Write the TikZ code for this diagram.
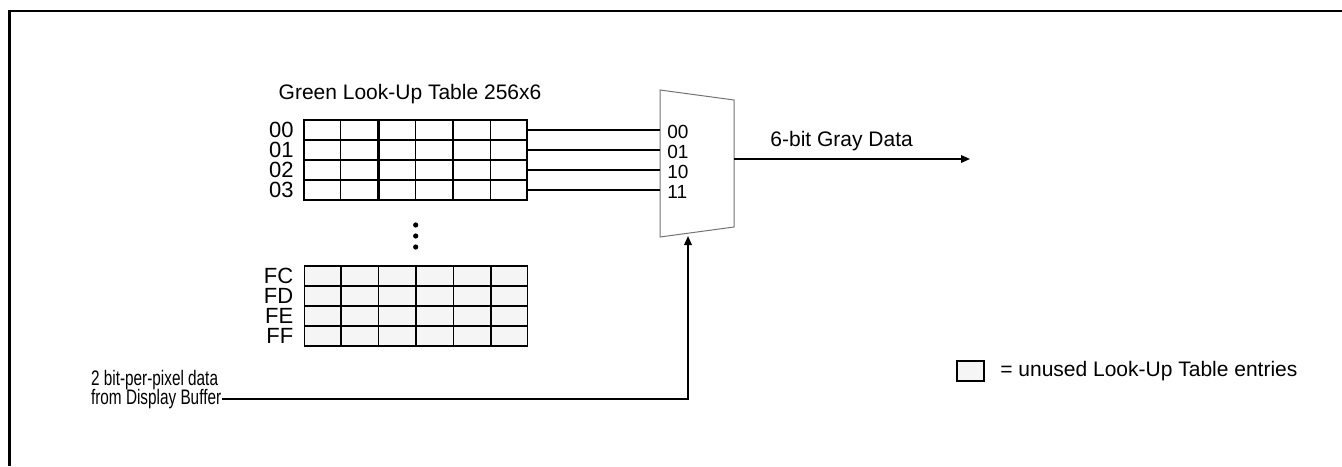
\documentclass[tikz,border=0pt]{standalone}
\usepackage{fontspec}
\setmainfont{Liberation Sans}
\newfontfamily\narrowfont[FakeStretch=0.73]{Liberation Sans}
\usetikzlibrary{arrows.meta,positioning,calc}

\begin{document}
\begin{tikzpicture}[x=0.5pt, y=-0.5pt, >={Triangle[length=4.5pt,width=3.8pt]},
    font=\fontsize{10.5}{12}\selectfont,
    lutrow/.style={draw, line width=0.9pt, minimum width=111.5pt,
                   minimum height=10pt, inner sep=0pt},
    unused/.style={lutrow, fill=black!4},
    rowlab/.style={inner sep=0pt, font=\fontsize{11}{12}\selectfont},
    txt/.style={inner sep=0pt},
    wire/.style={line width=0.8pt},
    muxline/.style={draw=black!55, line width=0.5pt},
    muxlab/.style={inner sep=0pt, font=\fontsize{9.5}{10}\selectfont}]
  \useasboundingbox (0,0) rectangle (1342,466);
  \draw[line width=1.2pt] (1342,10.7) -| (9.5,466);

  \foreach \i/\lab in {0/00,1/01,2/02,3/03} {
    \node[lutrow] (top\i) at (415.5,130+20*\i) {};
    \node[rowlab, left=4.5pt of top\i] (toplab\i) {\lab};
  }
  \foreach \c/\w in {1/0.9,2/1.5,3/0.9,4/0.9,5/0.9}
    \draw[line width=\w pt] ($(top0.north west)!\c/6!(top0.north east)$)
      -- ($(top3.south west)!\c/6!(top3.south east)$);
  \node[txt, above=7.5pt of top0, xshift=-2.75pt] (title) {Green Look-Up Table 256x6};

  \foreach \y in {225,236,247}
    \fill (415.7,\y) circle (1.3pt);

  \foreach \i/\lab in {0/FC,1/FD,2/FE,3/FF} {
    \node[unused] (bot\i) at (416,276.3+20*\i) {};
    \node[rowlab, left=5pt of bot\i] (botlab\i) {\lab};
  }
  \foreach \c in {1,...,5}
    \draw[line width=0.9pt] ($(bot0.north west)!\c/6!(bot0.north east)$)
      -- ($(bot3.south west)!\c/6!(bot3.south east)$);

  \draw[muxline] (660,90) coordinate (muxtl) -- (734,100) -- (734,227)
    -- (660,237) coordinate (muxbl) -- cycle;
  \foreach \i/\sel in {0/00,1/01,2/10,3/11} {
    \draw[wire] (top\i.east) -- (top\i.east -| muxtl) coordinate (in\i);
    \node[muxlab, right=3.5pt of in\i, yshift=-0.8pt] (sel\i) {\sel};
  }

  \coordinate (muxout) at (734,159);
  \coordinate (outend) at (970,159);
  \draw[wire,->] (muxout) -- (outend);
  \node[txt, anchor=base west] (graylab) at (770,146.7) {6-bit Gray Data};

  \node[txt, anchor=base west, font=\narrowfont\fontsize{10.5}{12}\selectfont]
    (srcA) at (90.7,385.5) {2 bit-per-pixel data};
  \node[txt, anchor=base west, font=\narrowfont\fontsize{10.5}{12}\selectfont]
    (srcB) at (90.7,404.4) {from Display Buffer};
  \coordinate (selin) at (688,236);
  \draw[wire,->] (srcB.mid east) -| (selin);

  \node[unused, minimum width=13.5pt] (legbox) at (970.5,371) {};
  \node[txt, right=7.5pt of legbox] (legtxt) {= unused Look-Up Table entries};
\end{tikzpicture}
\end{document}
